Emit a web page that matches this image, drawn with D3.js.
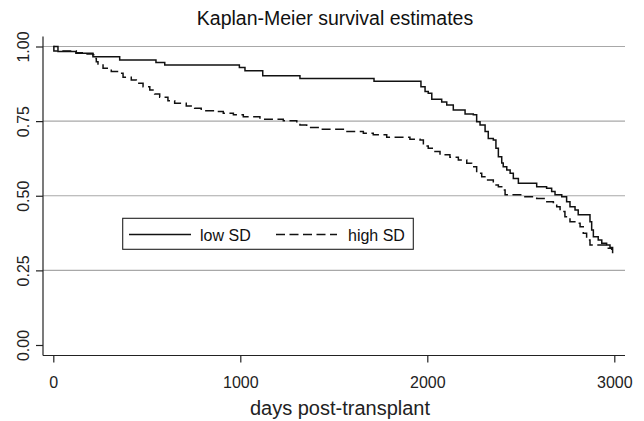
<!DOCTYPE html>
<html>
<head>
<meta charset="utf-8">
<script src="https://cdn.jsdelivr.net/npm/d3@7"></script>
<style>
  body { margin: 0; background: #fff; }
  svg { font-family: "Liberation Sans", Arial, Helvetica, sans-serif; }
</style>
</head>
<body>
<div id="Chart"></div>
<script>
var lowDays = [0, 25, 121, 212, 355, 549, 596, 995, 1025, 1120, 1319, 1715, 1966, 1988, 2005, 2024, 2077, 2104, 2139,
	2202, 2246, 2264, 2282, 2309, 2326, 2353, 2367, 2380, 2398, 2406, 2425, 2443, 2460, 2487, 2585, 2638, 2665, 2683,
	2719, 2745, 2763, 2790, 2807, 2870, 2879, 2888, 2914, 2933, 2959, 2977, 2991];
var lowSurv = [1, 0.983, 0.977, 0.966, 0.955, 0.946, 0.938, 0.930, 0.919, 0.902, 0.893, 0.884, 0.865, 0.849, 0.843, 0.823, 0.814, 0.804, 0.787,
	0.774, 0.771, 0.748, 0.737, 0.715, 0.692, 0.687, 0.659, 0.631, 0.610, 0.597, 0.586, 0.575, 0.558, 0.542, 0.530, 0.525, 0.514, 0.503,
	0.497, 0.480, 0.463, 0.452, 0.436, 0.413, 0.385, 0.363, 0.352, 0.341, 0.335, 0.327, 0.307];

var highDays = [0, 3, 123, 176, 212, 221, 230, 239, 266, 310, 355, 373, 417, 444, 480, 516, 542, 569, 613, 649,
	711, 756, 791, 856, 909, 963, 1016, 1105, 1230, 1302, 1319, 1355, 1426, 1551, 1658, 1711, 1783, 1907, 1961, 1979,
	2005, 2041, 2068, 2121, 2166, 2211, 2237, 2264, 2291, 2318, 2353, 2380, 2398, 2416, 2513, 2585, 2629, 2674, 2692, 2710,
	2736, 2763, 2799, 2817, 2834, 2852, 2870, 2968, 2986];
var highSurv = [1, 0.985, 0.979, 0.975, 0.972, 0.960, 0.949, 0.941, 0.927, 0.916, 0.910, 0.897, 0.888, 0.877, 0.865, 0.854, 0.841, 0.830, 0.818, 0.810,
	0.801, 0.793, 0.785, 0.782, 0.776, 0.771, 0.765, 0.756, 0.751, 0.748, 0.737, 0.729, 0.723, 0.715, 0.709, 0.704, 0.696, 0.689, 0.687, 0.667,
	0.659, 0.648, 0.637, 0.629, 0.620, 0.609, 0.597, 0.575, 0.564, 0.553, 0.536, 0.530, 0.519, 0.503, 0.497, 0.491, 0.480, 0.477, 0.463, 0.447,
	0.430, 0.413, 0.408, 0.396, 0.374, 0.352, 0.335, 0.324, 0.318];

var xTicks = [0, 1000, 2000, 3000];
var yTicks = [0, 0.25, 0.5, 0.75, 1];
var gridTicks = [0.25, 0.5, 0.75, 1];
var seriesNames = ["low SD", "high SD"];

var width = 644, height = 421;
var svg = d3.select("#Chart").append("svg")
	.attr("width", width).attr("height", height);

var x = d3.scaleLinear().domain([0, 3000]).range([53.3, 614.3]);
var y = d3.scaleLinear().domain([0, 1]).range([345, 46.5]);
var plotLeft = 43, plotRight = 625, plotTop = 36.5, plotBottom = 355.5;

svg.append("text")
	.attr("x", 335).attr("y", 25)
	.attr("text-anchor", "middle")
	.attr("font-size", 19.5)
	.attr("fill", "#111")
	.text("Kaplan-Meier survival estimates");

svg.append("g").selectAll("line").data(gridTicks).join("line")
	.attr("x1", plotLeft).attr("x2", plotRight)
	.attr("y1", d => y(d)).attr("y2", d => y(d))
	.attr("stroke", "#a8a8a8").attr("stroke-width", 1.2);

var yAxis = svg.append("g")
	.attr("transform", `translate(${plotLeft},0)`)
	.call(d3.axisLeft(y).tickValues(yTicks).tickSize(7).tickFormat(d3.format(".2f")));
yAxis.select(".domain").attr("d", `M0,${plotTop}V${plotBottom}`);
yAxis.selectAll("text")
	.attr("font-size", 16).attr("font-family", null)
	.attr("x", null).attr("dy", null)
	.attr("text-anchor", "middle")
	.attr("transform", d => `translate(-14.5,0) rotate(-90)`);

var xAxis = svg.append("g")
	.attr("transform", `translate(0,${plotBottom})`)
	.call(d3.axisBottom(x).tickValues(xTicks).tickSize(7).tickFormat(d3.format("d")));
xAxis.select(".domain").attr("d", `M${plotLeft},0H${plotRight}`);
xAxis.selectAll("text")
	.attr("font-size", 16).attr("font-family", null)
	.attr("y", 32).attr("dy", null);

svg.selectAll(".domain, .tick line").attr("stroke", "#222").attr("stroke-width", 1.2);
svg.selectAll(".tick text").attr("fill", "#222");

svg.append("text")
	.attr("x", 340).attr("y", 415)
	.attr("text-anchor", "middle")
	.attr("font-size", 20)
	.attr("fill", "#222")
	.text("days post-transplant");

var line = d3.line()
	.x(d => x(d[0]))
	.y(d => y(d[1]))
	.curve(d3.curveStepAfter);

var series = [
	{ name: seriesNames[0], points: d3.zip(lowDays, lowSurv), dash: null },
	{ name: seriesNames[1], points: d3.zip(highDays, highSurv), dash: "9,4.5" }
];

svg.append("g").selectAll("path").data(series).join("path")
	.attr("d", d => line(d.points))
	.attr("fill", "none")
	.attr("stroke", "#111")
	.attr("stroke-width", 1.5)
	.attr("stroke-dasharray", d => d.dash);

var legend = svg.append("g");
legend.append("rect")
	.attr("x", 122.7).attr("y", 218.3)
	.attr("width", 290.6).attr("height", 31)
	.attr("fill", "#fff").attr("stroke", "#222").attr("stroke-width", 1.1);

var items = legend.selectAll("g.item").data(series).join("g")
	.attr("class", "item")
	.attr("transform", (d, i) => `translate(${i == 0 ? 129 : 276},234.5)`);
items.append("line")
	.attr("x1", 0).attr("x2", (d, i) => i == 0 ? 62 : 61)
	.attr("stroke", "#111").attr("stroke-width", 1.5)
	.attr("stroke-dasharray", d => d.dash);
items.append("text")
	.attr("x", (d, i) => i == 0 ? 71 : 72)
	.attr("y", 6)
	.attr("font-size", 16)
	.attr("fill", "#111")
	.text(d => d.name);
</script>
</body>
</html>
